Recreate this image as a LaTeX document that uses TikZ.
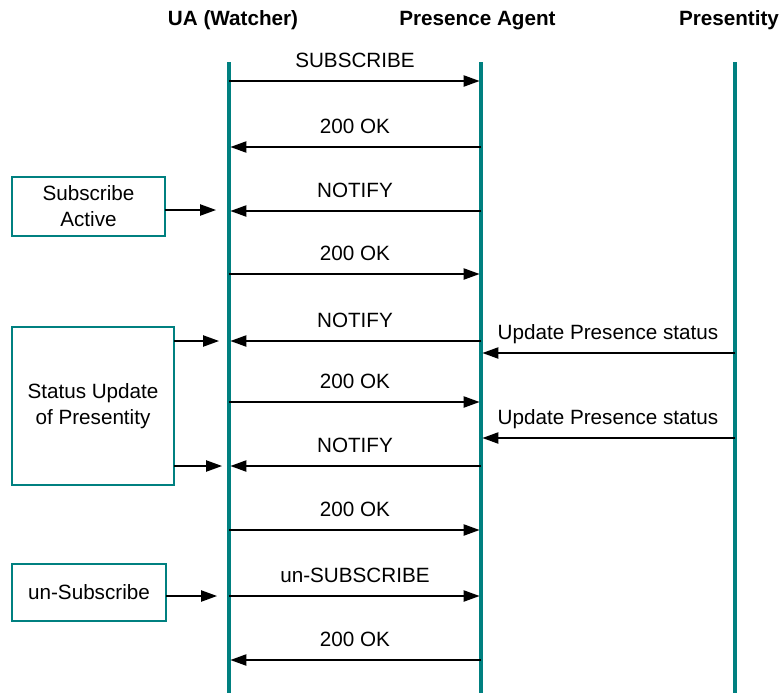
\documentclass[tikz,border=0pt]{standalone}
\usepackage{fontspec}
\setmainfont{Liberation Sans}
\usetikzlibrary{arrows.meta}
\definecolor{teal1}{RGB}{0,128,128}
\begin{document}
\begin{tikzpicture}[x=0.75pt,y=-0.75pt,
  font=\fontsize{15.5}{19.5}\selectfont,
  lifeline/.style={draw=teal1,line width=2.3pt},
  msg/.style={draw=black,line width=1pt,-{Triangle[length=12pt,width=8.5pt]},shorten >=1.1pt},
  lbl/.style={midway,anchor=base,yshift=9.8pt,inner sep=0pt},
  hdr/.style={anchor=base,font=\fontsize{15.5}{19}\selectfont\bfseries,inner sep=0pt},
  statebox/.style={draw=teal1,line width=1.8pt,align=center,inner sep=2pt,outer sep=0pt}]
\useasboundingbox (0,0) rectangle (782,693);
% headers
\node[hdr] (hua) at (233,25) {UA (Watcher)};
\node[hdr] (hpa) at (477.5,25) {Presence Agent};
\node[hdr] (hpr) at (729,25) {Presentity};
% lifelines
\coordinate (uaT) at (229,62); \coordinate (uaB) at (229,693);
\coordinate (paT) at (481,62); \coordinate (paB) at (481,693);
\coordinate (prT) at (735,62); \coordinate (prB) at (735,693);
\draw[lifeline] (uaT) -- (uaB);
\draw[lifeline] (paT) -- (paB);
\draw[lifeline] (prT) -- (prB);
% message points
\foreach \i/\y in {1/81,2/147,3/211,4/274,5/341,6/402,7/466,8/530,9/596,10/660}{
  \coordinate (u\i) at (229,\y);
  \coordinate (p\i) at (481,\y);
}
\coordinate (q1) at (481,353); \coordinate (r1) at (735,353);
\coordinate (q2) at (481,438); \coordinate (r2) at (735,438);
% messages
\draw[msg] (u1) -- node[lbl]{SUBSCRIBE} (p1);
\draw[msg] (p2) -- node[lbl]{200 OK} (u2);
\draw[msg] (p3) -- node[lbl]{NOTIFY} (u3);
\draw[msg] (u4) -- node[lbl]{200 OK} (p4);
\draw[msg] (p5) -- node[lbl]{NOTIFY} (u5);
\draw[msg] (u6) -- node[lbl]{200 OK} (p6);
\draw[msg] (p7) -- node[lbl]{NOTIFY} (u7);
\draw[msg] (u8) -- node[lbl]{200 OK} (p8);
\draw[msg] (u9) -- node[lbl]{un-SUBSCRIBE} (p9);
\draw[msg] (p10) -- node[lbl]{200 OK} (u10);
\draw[msg] (r1) -- node[lbl]{Update Presence status} (q1);
\draw[msg] (r2) -- node[lbl]{Update Presence status} (q2);
% state boxes
\node[statebox,minimum width=114.75pt,minimum height=44.25pt] (sa) at (88.5,206.5) {Subscribe\\Active};
\node[statebox,minimum width=121.5pt,minimum height=118.5pt] (su) at (93,406) {Status Update\\of Presentity};
\node[statebox,minimum width=115.5pt,minimum height=42.75pt] (us) at (89,592.5) {un-Subscribe};
\coordinate (t1) at (216,210);
\coordinate (t2) at (219,341);
\coordinate (t3) at (222,466);
\coordinate (t4) at (217,596);
\draw[msg,shorten >=0pt] (sa.east |- t1) -- (t1);
\draw[msg,shorten >=0pt] (su.east |- t2) -- (t2);
\draw[msg,shorten >=0pt] (su.east |- t3) -- (t3);
\draw[msg,shorten >=0pt] (us.east |- t4) -- (t4);
\end{tikzpicture}
\end{document}
